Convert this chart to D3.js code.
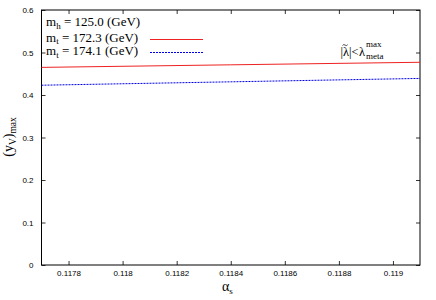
<!DOCTYPE html>
<html>
<head>
<meta charset="utf-8">
<script src="https://cdn.jsdelivr.net/npm/d3@7"></script>
<style>
body { margin: 0; background: #fff; }
</style>
</head>
<body>
<div id="root"></div>
<script>
//DATA
const alphaS = [0.1177, 0.1184, 0.1191];
const yRed = [0.465, 0.471, 0.477];
const yBlue = [0.423, 0.431, 0.439];
const xTicks = [0.1178, 0.118, 0.1182, 0.1184, 0.1186, 0.1188, 0.119];
const yTicks = [0, 0.1, 0.2, 0.3, 0.4, 0.5, 0.6];

//DIMENSIONS
const width = 436, height = 300;
const margin = {top: 10, right: 16, bottom: 35, left: 41.5};
const w = width - margin.left - margin.right;
const h = height - margin.top - margin.bottom;

const svg = d3.select('#root').append('svg')
  .attr('width', width).attr('height', height);
const g = svg.append('g').attr('transform', `translate(${margin.left},${margin.top})`);

//SCALES
const x = d3.scaleLinear().domain([0.1177, 0.1191]).range([0, w]);
const y = d3.scaleLinear().domain([0, 0.6]).range([h, 0]);

const tickFont = 'Liberation Sans, Arial, sans-serif';
const RED = '#ee2222', BLUE = '#0000e8';

//AXES (ticks inward, mirrored)
const axBottom = g.append('g').attr('transform', `translate(0,${h})`)
  .call(d3.axisBottom(x).tickValues(xTicks).tickSize(-4).tickPadding(5).tickFormat(d3.format('')));
const axTop = g.append('g')
  .call(d3.axisTop(x).tickValues(xTicks).tickSize(-4).tickFormat(''));
const axLeft = g.append('g')
  .call(d3.axisLeft(y).tickValues(yTicks).tickSize(-4).tickPadding(8).tickFormat(d => d === 0 ? '0' : d3.format('.1f')(d)));
const axRight = g.append('g').attr('transform', `translate(${w},0)`)
  .call(d3.axisRight(y).tickValues(yTicks).tickSize(-4).tickFormat(''));

[axBottom, axTop, axLeft, axRight].forEach(a => {
  a.select('.domain').remove();
  a.selectAll('line').attr('stroke', '#000').attr('stroke-width', 0.8);
  a.selectAll('text').attr('font-family', tickFont).attr('font-size', 8).attr('fill', '#000');
});

//FRAME
g.append('rect').attr('width', w).attr('height', h)
  .attr('fill', 'none').attr('stroke', '#000').attr('stroke-width', 1);

//LINES
const pts = (ys) => alphaS.map((a, i) => [a, ys[i]]);
const line = d3.line().x(d => x(d[0])).y(d => y(d[1]));
g.append('path').datum(pts(yRed)).attr('d', line)
  .attr('fill', 'none').attr('stroke', RED).attr('stroke-width', 1);
g.append('path').datum(pts(yBlue)).attr('d', line)
  .attr('fill', 'none').attr('stroke', BLUE).attr('stroke-width', 1)
  .attr('stroke-dasharray', '2,1');

//LEGEND
const serif = 'Liberation Serif, Times New Roman, serif';
const leg = svg.append('g').attr('font-family', serif).attr('font-size', 13).attr('fill', '#000');
function mLabel(sub, val, yy) {
  const t = leg.append('text').attr('x', 46).attr('y', yy);
  t.append('tspan').text('m');
  t.append('tspan').attr('font-size', 9).attr('dy', 2.5).text(sub);
  t.append('tspan').attr('dy', -2.5).text(' = ' + val + ' (GeV)');
}
mLabel('h', '125.0', 26);
mLabel('t', '172.3', 41.5);
mLabel('t', '174.1', 55);
svg.append('line').attr('x1', 150).attr('x2', 203).attr('y1', 39.5).attr('y2', 39.5)
  .attr('stroke', RED).attr('stroke-width', 1);
svg.append('line').attr('x1', 150).attr('x2', 203).attr('y1', 52.5).attr('y2', 52.5)
  .attr('stroke', BLUE).attr('stroke-width', 1).attr('stroke-dasharray', '2,1');

//ANNOTATION  |λ~| < λ^max_meta
const ann = svg.append('g').attr('font-family', serif).attr('font-size', 12.5).attr('fill', '#000');
ann.append('text').attr('x', 340.5).attr('y', 56).text('|λ|');
ann.append('text').attr('x', 351.5).attr('y', 56).text('<');
ann.append('text').attr('x', 359).attr('y', 56).text('λ');
ann.append('text').attr('x', 366).attr('y', 47).attr('font-size', 9).text('max');
ann.append('text').attr('x', 366).attr('y', 59).attr('font-size', 9).text('meta');
svg.append('path').attr('d', 'M342.5,45.5 q1.2,-1.6 2.6,-0.4 q1.4,1.2 2.6,-0.4')
  .attr('fill', 'none').attr('stroke', '#000').attr('stroke-width', 0.7);

//AXIS LABELS
const xl = svg.append('text').attr('x', 222).attr('y', 291).attr('font-family', serif).attr('font-size', 14).attr('fill', '#000');
xl.append('tspan').text('α');
xl.append('tspan').attr('font-size', 9).attr('dy', 3).text('s');

const yl = svg.append('text').attr('transform', 'translate(13,137) rotate(-90)')
  .attr('text-anchor', 'middle').attr('font-family', serif).attr('font-size', 14).attr('fill', '#000');
yl.append('tspan').text('(y');
yl.append('tspan').attr('font-size', 9.5).attr('dy', 3).text('V');
yl.append('tspan').attr('dy', -3).text(')');
yl.append('tspan').attr('font-size', 9.5).attr('dy', 3).text('max');
</script>
</body>
</html>
